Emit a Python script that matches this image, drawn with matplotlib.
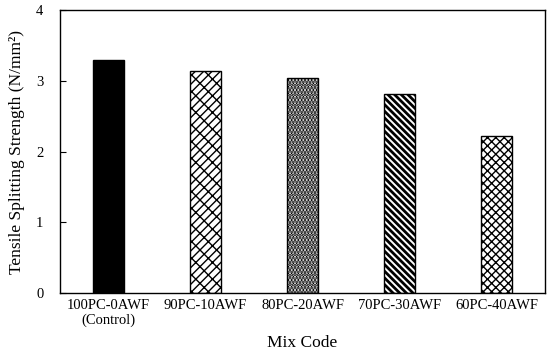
import numpy as np
import matplotlib.pyplot as plt

mixes = ['100PC-0AWF\n(Control)', '90PC-10AWF', '80PC-20AWF', '70PC-30AWF', '60PC-40AWF']
strength = [3.29, 3.14, 3.04, 2.81, 2.22]
hatches = ['', '////\\\\', '.....', '\\\\\\\\\\', 'xxxx']
hatch_lw = [1.0, 1.0, 2.0, 2.0, 1.0]
colors = ['black', 'white', 'white', 'white', 'white']

plt.rcParams['font.family'] = ['Liberation Serif', 'DejaVu Serif']
plt.rcParams['hatch.linewidth'] = 1.0

fig = plt.figure(figsize=(5.5, 3.5), dpi=100)
ax = fig.add_axes([0.109, 0.163, 0.882, 0.808])

x = np.arange(len(mixes))
for i in range(len(mixes)):
    b = ax.bar(x[i], strength[i], width=0.32, color=colors[i], edgecolor='black',
               hatch=hatches[i], linewidth=1.0)
    try:
        b[0].set_hatch_linewidth(hatch_lw[i])
    except AttributeError:
        pass

ax.set_xlim(-0.5, 4.5)
ax.set_ylim(0, 4)
ax.set_yticks([0, 1, 2, 3, 4])
ax.set_xticks(x)
ax.set_xticklabels(mixes, fontsize=10.5)
ax.tick_params(axis='y', direction='in', labelsize=10.5, length=4, pad=12)
ax.tick_params(axis='x', length=0, pad=4)
ax.set_xlabel('Mix Code', fontsize=12.5, labelpad=6)
ax.set_ylabel('Tensile Splitting Strength (N/mm²)', fontsize=12.5, labelpad=8)
for s in ax.spines.values():
    s.set_linewidth(1.0)

fig.savefig('out.png', dpi=100)
